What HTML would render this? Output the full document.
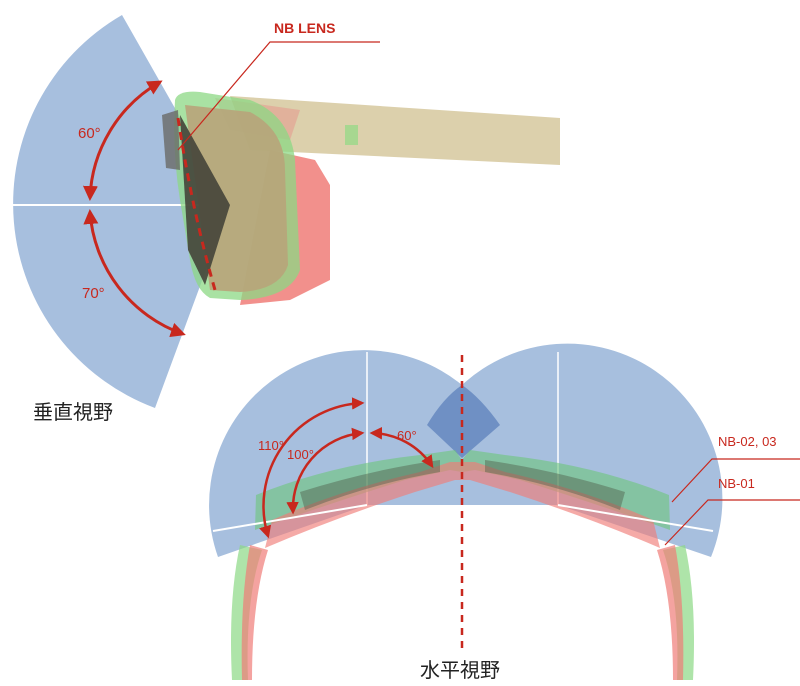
<!DOCTYPE html>
<html><head><meta charset="utf-8"><style>
html,body{margin:0;padding:0;background:#fff;}
svg{display:block;}
text{font-family:"Liberation Sans","Noto Sans CJK JP",sans-serif;}
</style></head><body>
<svg width="800" height="686" viewBox="0 0 800 686" xmlns="http://www.w3.org/2000/svg">
<defs>
<marker id="ah" viewBox="0 0 10 10" refX="8" refY="5" markerWidth="5" markerHeight="5" orient="auto-start-reverse">
<path d="M0,0 L10,5 L0,10 Z" fill="#c8281e"/></marker>
</defs>
<!-- vertical sector -->
<path d="M230,205 L122,15 A218,218 0 0 0 155,408 Z" fill="#a7bfde"/>
<line x1="10" y1="205" x2="230" y2="205" stroke="#fff" stroke-width="2"/>
<!-- side glasses -->
<path d="M230,96 L560,118 L560,165 L250,150 Z" fill="#d6c89e" opacity="0.85"/>
<path d="M345,125 L358,125 L358,145 L345,145 Z" fill="#9ad88a" opacity="0.8"/>
<path d="M215,98 L300,110 L290,140 L230,130 Z" fill="#e6928a" opacity="0.5"/>
<path d="M270,150 L315,160 L330,185 L330,280 L290,300 L240,305 Z" fill="#f07c78" opacity="0.85"/>
<path d="M175,100 Q178,90 200,92 L250,100 Q290,115 295,160 L300,270 Q290,298 240,300 L210,298 Q195,290 190,260 L180,200 Q172,150 175,100 Z" fill="#8cd884" opacity="0.75"/>
<path d="M185,105 L250,112 Q285,130 285,170 L288,265 Q280,290 240,292 L210,290 Z" fill="#b8a47a" opacity="0.9"/>
<path d="M180,115 L230,205 L205,285 L188,250 Z" fill="#45443a" opacity="0.9"/>
<path d="M162,115 L178,110 L180,170 L166,168 Z" fill="#6a6a66" opacity="0.8"/>
<path d="M178,118 Q192,210 215,290" fill="none" stroke="#c8281e" stroke-width="3" stroke-dasharray="8,6"/>
<!-- vertical arrows -->
<path d="M160,82 A140,140 0 0 0 90,198" fill="none" stroke="#c8281e" stroke-width="3" marker-start="url(#ah)" marker-end="url(#ah)"/>
<path d="M90,212 A140,140 0 0 0 183,334" fill="none" stroke="#c8281e" stroke-width="3" marker-start="url(#ah)" marker-end="url(#ah)"/>
<text x="78" y="138" font-size="15" fill="#c8281e">60°</text>
<text x="82" y="298" font-size="15" fill="#c8281e">70°</text>
<!-- NB lens label -->
<polyline points="178,150 270,42 380,42" fill="none" stroke="#c8281e" stroke-width="1.2"/>
<text x="274" y="33" font-size="14" font-weight="bold" fill="#c8281e">NB LENS</text>
<text x="33" y="419" font-size="20" fill="#222">垂直視野</text>
<!-- horizontal sectors -->
<path d="M367,505 L218,557 A155,155 0 0 1 462,385 A155,155 0 0 1 711,557 L558,505 Z" fill="#a7bfde"/>
<path d="M462,458 L427,425 Q443,398 462,385 Q481,398 500,425 Z" fill="#6f90c4"/>
<line x1="367" y1="352" x2="367" y2="505" stroke="#fff" stroke-width="1.5"/>
<line x1="558" y1="352" x2="558" y2="505" stroke="#fff" stroke-width="1.5"/>
<!-- top-view glasses -->
<path d="M256,495 Q330,465 420,455 L455,450 L462,460 L470,450 L505,455 Q595,465 669,495 L670,530 Q600,505 520,480 L475,470 L462,472 L450,470 L405,480 Q325,505 255,530 Z" fill="#6cc77a" opacity="0.6"/>
<path d="M272,520 Q340,490 420,472 L450,462 L475,462 L505,472 Q585,490 653,520 L660,548 Q590,518 510,492 L470,480 L455,480 L415,492 Q335,518 265,548 Z" fill="#f07c78" opacity="0.65"/>
<path d="M300,492 Q370,470 440,460 L440,472 Q370,484 305,510 Z" fill="#4f5e4a" opacity="0.45"/>
<path d="M625,492 Q555,470 485,460 L485,472 Q555,484 620,510 Z" fill="#4f5e4a" opacity="0.45"/>
<path d="M240,545 Q228,600 232,680 L248,680 Q245,600 262,550 Z" fill="#8cd884" opacity="0.7"/>
<path d="M250,545 Q240,600 242,680 L252,680 Q252,600 268,550 Z" fill="#f07c78" opacity="0.7"/>
<path d="M685,545 Q697,600 693,680 L677,680 Q680,600 663,550 Z" fill="#8cd884" opacity="0.7"/>
<path d="M675,545 Q685,600 683,680 L673,680 Q673,600 657,550 Z" fill="#f07c78" opacity="0.7"/>
<line x1="213" y1="531" x2="367" y2="505" stroke="#fff" stroke-width="2"/>
<line x1="558" y1="505" x2="713" y2="531" stroke="#fff" stroke-width="2"/>
<line x1="462" y1="355" x2="462" y2="650" stroke="#c8281e" stroke-width="2.5" stroke-dasharray="7,6"/>
<!-- horizontal arrows -->
<path d="M362,403 A103,103 0 0 0 268,536" fill="none" stroke="#c8281e" stroke-width="2.5" marker-start="url(#ah)" marker-end="url(#ah)"/>
<path d="M362,433 A76,76 0 0 0 293,512" fill="none" stroke="#c8281e" stroke-width="2.5" marker-start="url(#ah)" marker-end="url(#ah)"/>
<path d="M372,433 A74,74 0 0 1 432,466" fill="none" stroke="#c8281e" stroke-width="2.5" marker-start="url(#ah)" marker-end="url(#ah)"/>
<text x="258" y="450" font-size="13" fill="#c8281e">110°</text>
<text x="287" y="459" font-size="13" fill="#c8281e">100°</text>
<text x="397" y="440" font-size="13" fill="#c8281e">60°</text>
<!-- model labels -->
<polyline points="672,502 712,459 800,459" fill="none" stroke="#c8281e" stroke-width="1.2"/>
<text x="718" y="446" font-size="13" fill="#c8281e">NB-02, 03</text>
<polyline points="665,545 708,500 800,500" fill="none" stroke="#c8281e" stroke-width="1.2"/>
<text x="718" y="488" font-size="13" fill="#c8281e">NB-01</text>
<text x="420" y="677" font-size="20" fill="#222">水平視野</text>
</svg>
</body></html>
